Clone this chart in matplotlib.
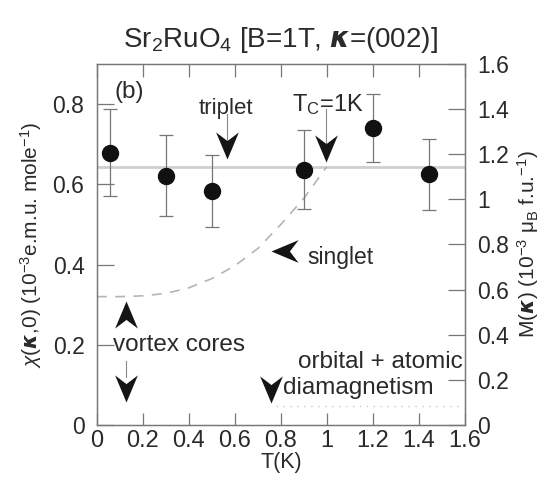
import matplotlib

matplotlib.use("Agg")
import matplotlib.pyplot as plt
import numpy as np
from matplotlib.path import Path
from matplotlib.ticker import FuncFormatter

plt.rcParams["font.family"] = ["Liberation Sans", "DejaVu Sans"]
plt.rcParams["mathtext.fontset"] = "custom"
plt.rcParams["mathtext.rm"] = "Liberation Sans"
plt.rcParams["mathtext.it"] = "Liberation Sans:italic"
plt.rcParams["mathtext.bf"] = "Liberation Sans:bold"

# measured susceptibility chi(kappa, 0) vs temperature
temp_k = [0.055, 0.30, 0.50, 0.90, 1.20, 1.445]
chi = [0.679, 0.621, 0.583, 0.637, 0.740, 0.625]
chi_err = [0.109, 0.101, 0.090, 0.098, 0.085, 0.088]

# normal-state level and singlet (Yosida-like) curve
normal_level = 0.644
singlet_t = [0.0, 0.1, 0.2, 0.3, 0.4, 0.5, 0.6, 0.7, 0.8, 0.9, 1.0]
singlet_chi = [0.320, 0.320, 0.322, 0.328, 0.342, 0.365, 0.397, 0.440, 0.500, 0.565, 0.644]
diamag_t = [0.78, 1.58]
diamag_level = [0.048, 0.048]

# arrow tips (T, chi) and directions
arrow_t = [0.568, 0.997, 0.757, 0.128, 0.127, 0.757]
arrow_chi = [0.663, 0.655, 0.433, 0.308, 0.058, 0.055]
arrow_dir = ["down", "down", "left", "up", "down", "down"]
stem_t = [0.568, 0.997, 0.127]
stem_lo = [0.70, 0.70, 0.12]
stem_hi = [0.775, 0.787, 0.16]

GRAY = "#777777"
TEXT = "#2a2a2a"


def chevron(direction):
    verts = np.array([[0, 0], [-0.42, 1.0], [0, 0.68], [0.42, 1.0], [0, 0]])
    if direction == "up":
        verts[:, 1] *= -1
    elif direction == "left":
        verts = verts[:, ::-1].copy()
    codes = [Path.MOVETO, Path.LINETO, Path.LINETO, Path.LINETO, Path.CLOSEPOLY]
    return Path(verts, codes)


fig = plt.figure(figsize=(5.6, 4.78), dpi=100)
ax = fig.add_axes([0.173, 0.111, 0.657, 0.755])
ax2 = ax.twinx()

ax.axhline(normal_level, color="#cfcfcf", lw=2.0, zorder=1)
ax.plot(singlet_t, singlet_chi, color="#b5b5b5", lw=1.2, dashes=(6, 5), zorder=1)
ax.plot(diamag_t, diamag_level, color="#c8c8c8", lw=1.0, ls=(0, (1, 4)), zorder=1)

ax.errorbar(
    temp_k, chi, yerr=chi_err, fmt="o", color="#111111", ms=11.5,
    ecolor=GRAY, elinewidth=0.9, capsize=5, capthick=0.9, zorder=3,
)

for t, lo, hi in zip(stem_t, stem_lo, stem_hi):
    ax.plot([t, t], [lo, hi], color="#888888", lw=0.8, zorder=2)
for t, c, d in zip(arrow_t, arrow_chi, arrow_dir):
    ax.plot(t, c, marker=chevron(d), ms=39, color="#151515", mew=0, zorder=4)

fs = 17.5
ax.text(0.075, 0.83, "(b)", fontsize=fs, color=TEXT, va="center", ha="left")
ax.text(0.56, 0.79, "triplet", fontsize=fs - 1.5, color=TEXT, va="center", ha="center")
ax.text(0.85, 0.80, r"T$_\mathregular{C}$=1K", fontsize=fs - 0.5, color=TEXT, va="center", ha="left")
ax.text(0.915, 0.418, "singlet", fontsize=fs - 1, color=TEXT, va="center", ha="left")
ax.text(0.07, 0.200, "vortex cores", fontsize=fs, color=TEXT, va="center", ha="left")
ax.text(1.59, 0.157, "orbital + atomic", fontsize=fs, color=TEXT, va="center", ha="right")
ax.text(0.81, 0.092, "diamagnetism", fontsize=fs, color=TEXT, va="center", ha="left")

ax.set_xlim(0, 1.6)
ax.set_ylim(0, 0.9)
ax2.set_ylim(0, 1.6)
ax.set_xticks(np.arange(0, 1.61, 0.2))
ax.set_yticks([0, 0.2, 0.4, 0.6, 0.8])
ax2.set_yticks(np.arange(0, 1.61, 0.2))
fmt = FuncFormatter(lambda v, _: f"{v:g}")
ax.xaxis.set_major_formatter(fmt)
ax.yaxis.set_major_formatter(fmt)
ax2.yaxis.set_major_formatter(fmt)

ax.tick_params(axis="x", direction="in", length=9, width=0.9, color=GRAY,
               top=True, labelsize=17, labelcolor=TEXT, pad=4)
ax.tick_params(axis="y", direction="in", length=12, width=0.9, color=GRAY,
               labelsize=16.5, labelcolor=TEXT, pad=9)
ax2.tick_params(axis="y", direction="in", length=12, width=0.9, color=GRAY,
                labelsize=16.5, labelcolor=TEXT, pad=9)
for a in (ax, ax2):
    for s in a.spines.values():
        s.set_color(GRAY)
        s.set_linewidth(0.9)

ax.set_xlabel("T(K)", fontsize=15.5, color=TEXT, labelpad=0)
ax.set_ylabel(r"$\chi$($\boldsymbol{\kappa}$,0) (10$^{-3}$e.m.u. mole$^{-1}$)",
              fontsize=15, color=TEXT, labelpad=6)
ax2.set_ylabel(r"M($\boldsymbol{\kappa}$) (10$^{-3}$ $\mathregular{\mu}_\mathregular{B}$ f.u.$^{-1}$)",
               fontsize=15, color=TEXT, labelpad=4)
ax.set_title(r"Sr$_2$RuO$_4$ [B=1T, $\boldsymbol{\kappa}$=(002)]",
             fontsize=20, color=TEXT, pad=12)

fig.savefig("out.png", dpi=100, facecolor="white")
